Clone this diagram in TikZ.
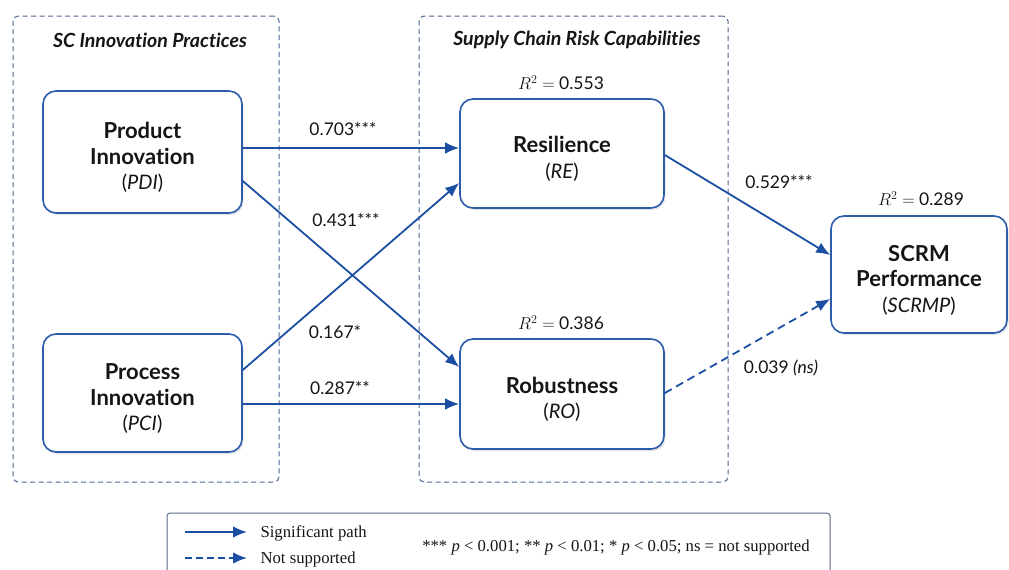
\documentclass[tikz,border=0pt]{standalone}
\usepackage{fontspec}
\setmainfont{Lato}[Ligatures=NoCommon]
\newfontfamily\legfont{Liberation Serif}
\usetikzlibrary{arrows.meta,shadows}
\definecolor{lineblue}{HTML}{1B4FA3}
\definecolor{boxblue}{HTML}{2C5CAA}
\definecolor{groupcol}{HTML}{4A6690}
\definecolor{legcol}{HTML}{5B6A86}
\definecolor{txt}{HTML}{151515}
\tikzset{
  construct/.style={draw=boxblue, line width=1.6pt, rounded corners=13pt, fill=white, align=center,
    text=txt, inner sep=0pt, font=\fontsize{22}{25.5}\selectfont,
    drop shadow={opacity=0.22, shadow xshift=1.5pt, shadow yshift=-2pt, fill=gray}},
  groupbox/.style={draw=groupcol, line width=1pt, dash pattern=on 5pt off 3.5pt, rounded corners=5pt, inner sep=0pt},
  grouptitle/.style={font=\fontsize{19.5}{22}\selectfont\bfseries\itshape, text=txt},
  coef/.style={font=\fontsize{17.5}{20}\selectfont, text=txt},
  rsq/.style={font=\fontsize{17.5}{20}\selectfont, text=txt},
  sig/.style={draw=lineblue, line width=1.8pt, -{Latex[length=14pt,width=11.5pt]}},
  nsig/.style={sig, dash pattern=on 8pt off 5pt},
  legtext/.style={font=\legfont\fontsize{16.7}{19}\selectfont, text=txt},
}
\newcommand{\abbr}[1]{{\fontsize{20}{25.5}\selectfont\mdseries(\textit{#1})}}
\newcommand{\topstrut}{\rule{0pt}{27pt}}
\begin{document}
\begin{tikzpicture}[x=1pt,y=-1pt]
\useasboundingbox (0,0) rectangle (1009,570);
% group boxes
\node[groupbox, minimum width=266pt, minimum height=466pt] (gleft) at (146,249) {};
\node[groupbox, minimum width=309pt, minimum height=466pt] (gright) at (573.5,249) {};
\node[grouptitle] (tleft) at (150,40) {SC Innovation Practices};
\node[grouptitle] (tright) at (577,40) {Supply Chain Risk Capabilities};
% constructs
\node[construct, minimum width=199pt, minimum height=122pt] (PDI) at (142.5,152) {\topstrut\textbf{Product}\\\textbf{Innovation}\\\abbr{PDI}};
\node[construct, minimum width=199pt, minimum height=118pt] (PCI) at (142.5,393) {\topstrut\textbf{Process}\\\textbf{Innovation}\\\abbr{PCI}};
\node[construct, minimum width=204pt, minimum height=109pt] (RE) at (562,153.5) {\topstrut\textbf{Resilience}\\\abbr{RE}};
\node[construct, minimum width=204pt, minimum height=110pt] (RO) at (562,394) {\topstrut\textbf{Robustness}\\\abbr{RO}};
\node[construct, minimum width=176pt, minimum height=117pt] (SCRMP) at (919,274.5) {\topstrut\textbf{SCRM}\\\textbf{Performance}\\\abbr{SCRMP}};
% R squared
\node[rsq] (r1) at (561,83) {$R^2 =$ 0.553};
\node[rsq] (r2) at (561,323) {$R^2 =$ 0.386};
\node[rsq] (r3) at (921,199) {$R^2 =$ 0.289};
% paths
\draw[sig] ([yshift=4pt]PDI.east) -- ([yshift=4pt]PDI.east -| RE.west);
\draw[sig] ([yshift=-29pt]PDI.east) -- ([yshift=27pt]RO.west);
\draw[sig] ([yshift=23pt]PCI.east) -- ([yshift=-29.5pt]RE.west);
\draw[sig] ([yshift=-11pt]PCI.east) -- ([yshift=-10pt]RO.west);
\draw[sig] ([yshift=-1.5pt]RE.east) -- ([yshift=19.5pt]SCRMP.west);
\draw[nsig] ([yshift=1pt]RO.east) -- ([yshift=-24.5pt]SCRMP.west);
% coefficients
\node[coef] (c1) at (343,129) {0.703***};
\node[coef] (c2) at (346,220) {0.431***};
\node[coef] (c3) at (335,332) {0.167*};
\node[coef] (c4) at (340,388) {0.287**};
\node[coef] (c5) at (779,182) {0.529***};
\node[coef] (c6) at (781,368) {0.039 \textit{(ns)}};
% legend
\draw[draw=legcol, line width=1pt, rounded corners=3pt] (167,572) |- (830,513) -- (830,572);
\coordinate (l1a) at (185,532);
\coordinate (l1b) at (247,532);
\coordinate (l2a) at (185,558);
\coordinate (l2b) at (247,558);
\draw[sig] (l1a) -- (l1b);
\draw[nsig, dash pattern=on 7pt off 4pt] (l2a) -- (l2b);
\node[legtext, anchor=west] (lt1) at (257,533) {Significant path};
\node[legtext, anchor=west] (lt2) at (257,559) {Not supported};
\node[legtext] (lt3) at (616,547) {*** \textit{p} < 0.001; ** \textit{p} < 0.01; * \textit{p} < 0.05; ns = not supported};
\end{tikzpicture}
\end{document}
